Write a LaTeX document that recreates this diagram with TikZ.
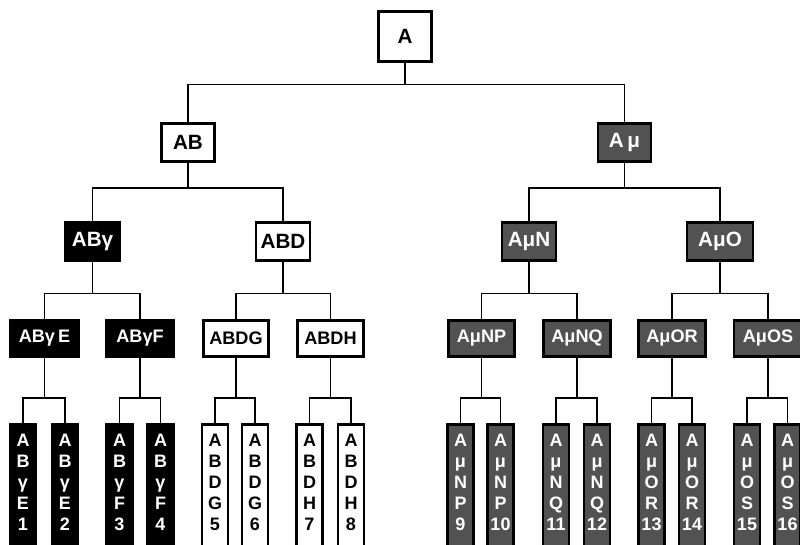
\documentclass[tikz,border=0pt]{standalone}
\usepackage{fontspec}
\setmainfont{Liberation Sans}
\definecolor{mugray}{RGB}{82,82,82}
\begin{document}
\begin{tikzpicture}
[x=0.75pt, y=-0.75pt, inner sep=0pt]
\tikzstyle{whitebox}=[draw, line width=2.2pt, fill=white, text=black]
\tikzstyle{blackbox}=[draw, line width=2.2pt, fill=black, text=white]
\tikzstyle{graybox}=[draw, line width=2.2pt, fill=mugray, text=white]
\tikzstyle{top}=[minimum width=39.75pt, minimum height=28.5pt, font=\bfseries\fontsize{15.5}{17}\selectfont]
\tikzstyle{mid}=[minimum width=50pt, minimum height=27pt, font=\bfseries\fontsize{13.6}{15}\selectfont]
\tikzstyle{leaf}=[anchor=north, minimum width=19.5pt, inner ysep=7.5pt, text depth=40pt, align=center, font=\bfseries\fontsize{13.5}{15.75}\selectfont]
\tikzstyle{link}=[line width=1.4pt]
\useasboundingbox (0,0) rectangle (800,544);
\clip (0,0) rectangle (800,544);

% root and second row
\node[whitebox, top, minimum height=37.5pt] (A) at (405,36.5) {A};
\node[whitebox, top] (AB)  at (188,142.5)   {AB};
\node[graybox,  top] (Amu) at (624.5,142.5) {A\,μ};

% third row
\node[blackbox, top, minimum width=40.5pt] (ABg)  at (92.5,241.5) {ABγ};
\node[whitebox, top, minimum width=40.5pt] (ABD)  at (283,241.5)  {ABD};
\node[graybox,  top, minimum width=40.5pt] (AmuN) at (529,241.5)  {AμN};
\node[graybox,  top, minimum width=49.5pt] (AmuO) at (720,241.5)  {AμO};

% fourth row
\node[blackbox, mid, minimum width=51pt] (ABgE)  at (44.5,338.5) {ABγ\,E};
\node[blackbox, mid, minimum width=51pt] (ABgF)  at (140,338.5)  {ABγF};
\node[whitebox, mid, minimum width=49pt] (ABDG)  at (236,338.5)  {ABDG};
\node[whitebox, mid, minimum width=49pt] (ABDH)  at (330.5,338.5) {ABDH};
\node[graybox,  mid] (AmuNP) at (481.5,338.5) {AμNP};
\node[graybox,  mid] (AmuNQ) at (577,338.5)   {AμNQ};
\node[graybox,  mid] (AmuOR) at (672,338.5)   {AμOR};
\node[graybox,  mid, minimum width=51pt] (AmuOS) at (768,338.5) {AμOS};

% leaves
\node[blackbox, leaf] (L1)  at (23,423)    {A\\B\\γ\\E\\1};
\node[blackbox, leaf] (L2)  at (65,423)    {A\\B\\γ\\E\\2};
\node[blackbox, leaf] (L3)  at (119.5,423) {A\\B\\γ\\F\\3};
\node[blackbox, leaf] (L4)  at (160.5,423) {A\\B\\γ\\F\\4};
\node[whitebox, leaf] (L5)  at (215,423)   {A\\B\\D\\G\\5};
\node[whitebox, leaf] (L6)  at (255,423)   {A\\B\\D\\G\\6};
\node[whitebox, leaf] (L7)  at (309.5,423) {A\\B\\D\\H\\7};
\node[whitebox, leaf] (L8)  at (351,423)   {A\\B\\D\\H\\8};
\node[graybox,  leaf] (L9)  at (460.5,423) {A\\μ\\N\\P\\9};
\node[graybox,  leaf] (L10) at (500.5,423) {A\\μ\\N\\P\\10};
\node[graybox,  leaf] (L11) at (556,423)   {A\\μ\\N\\Q\\11};
\node[graybox,  leaf] (L12) at (597,423)   {A\\μ\\N\\Q\\12};
\node[graybox,  leaf] (L13) at (651.5,423) {A\\μ\\O\\R\\13};
\node[graybox,  leaf] (L14) at (692,423)   {A\\μ\\O\\R\\14};
\node[graybox,  leaf] (L15) at (747,423)   {A\\μ\\O\\S\\15};
\node[graybox,  leaf] (L16) at (787.5,423) {A\\μ\\O\\S\\16};

% connectors
\draw[link] (A.south) -- ++(0,21.5) -| (AB.north)  (A.south) -- ++(0,21.5) -| (Amu.north);
\draw[link] (AB.south) -- ++(0,25) -| (ABg.north)  (AB.south) -- ++(0,25) -| (ABD.north);
\draw[link] (Amu.south) -- ++(0,25) -| (AmuN.north)  (Amu.south) -- ++(0,25) -| (AmuO.north);
\draw[link] (ABg.south) -- ++(0,31.5) -| (ABgE.north)  (ABg.south) -- ++(0,31.5) -| (ABgF.north);
\draw[link] (ABD.south) -- ++(0,31.5) -| (ABDG.north)  (ABD.south) -- ++(0,31.5) -| (ABDH.north);
\draw[link] (AmuN.south) -- ++(0,31.5) -| (AmuNP.north)  (AmuN.south) -- ++(0,31.5) -| (AmuNQ.north);
\draw[link] (AmuO.south) -- ++(0,31.5) -| (AmuOR.north)  (AmuO.south) -- ++(0,31.5) -| (AmuOS.north);
\draw[link] (ABgE.south) -- ++(0,40) -| (L1.north)  (ABgE.south) -- ++(0,40) -| (L2.north);
\draw[link] (ABgF.south) -- ++(0,40) -| (L3.north)  (ABgF.south) -- ++(0,40) -| (L4.north);
\draw[link] (ABDG.south) -- ++(0,40) -| (L5.north)  (ABDG.south) -- ++(0,40) -| (L6.north);
\draw[link] (ABDH.south) -- ++(0,40) -| (L7.north)  (ABDH.south) -- ++(0,40) -| (L8.north);
\draw[link] (AmuNP.south) -- ++(0,40) -| (L9.north)  (AmuNP.south) -- ++(0,40) -| (L10.north);
\draw[link] (AmuNQ.south) -- ++(0,40) -| (L11.north)  (AmuNQ.south) -- ++(0,40) -| (L12.north);
\draw[link] (AmuOR.south) -- ++(0,40) -| (L13.north)  (AmuOR.south) -- ++(0,40) -| (L14.north);
\draw[link] (AmuOS.south) -- ++(0,40) -| (L15.north)  (AmuOS.south) -- ++(0,40) -| (L16.north);
\end{tikzpicture}
\end{document}
